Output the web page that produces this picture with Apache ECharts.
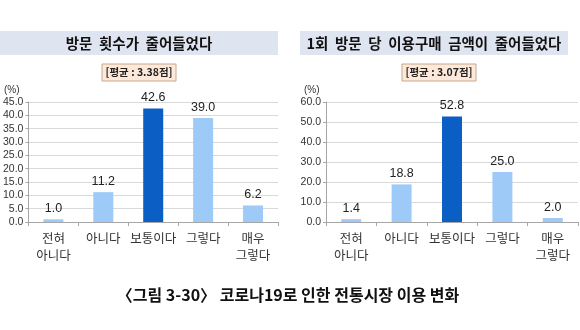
<!DOCTYPE html>
<html><head><meta charset="utf-8">
<script src="https://cdn.jsdelivr.net/npm/echarts@6/dist/echarts.min.js"></script>
<style>html,body{margin:0;padding:0;background:#fff}#c{width:580px;height:330px}</style>
</head><body><div id="c"></div>
<script>
const categories = ['전혀\n아니다', '아니다', '보통이다', '그렇다', '매우\n그렇다'];
const visitValues = [1.0, 11.2, 42.6, 39.0, 6.2];
const spendValues = [1.4, 18.8, 52.8, 25.0, 2.0];
const leftTitle = '방문  횟수가  줄어들었다';
const rightTitle = '1회  방문  당  이용구매  금액이  줄어들었다';
const leftAvg = '[평균 : 3.38점]';
const rightAvg = '[평균 : 3.07점]';
const caption = '〈그림 3-30〉 코로나19로 인한 전통시장 이용 변화';
const highlightIndex = 2;

const FONT = '"Noto Sans CJK KR", sans-serif';
const LIGHT = '#9dcaf6', DARK = '#0a5ec4';

function barData(vals){
  return vals.map((v,i)=>({value:v,itemStyle:{color:i===highlightIndex?DARK:LIGHT}}));
}
function xAxis(gi){
  return {type:'category',gridIndex:gi,data:categories,
    axisLine:{lineStyle:{color:'#a6a6a6'}},
    axisTick:{show:true,length:4,lineStyle:{color:'#a6a6a6'}},
    axisLabel:{interval:0,color:'#333',fontSize:12.5,fontFamily:FONT,lineHeight:17,margin:8}};
}
function yAxis(gi,max,interval){
  return {type:'value',gridIndex:gi,min:0,max:max,interval:interval,
    axisLine:{show:true,lineStyle:{color:'#a6a6a6'}},
    axisTick:{show:true,length:3,lineStyle:{color:'#a6a6a6'}},
    splitLine:{lineStyle:{color:'#d9d9d9'}},
    axisLabel:{color:'#333',fontSize:10.5,fontFamily:'Arial, "Liberation Sans", sans-serif',margin:5,
      formatter:v=>v.toFixed(1)}};
}
function series(gi,vals){
  return {type:'bar',xAxisIndex:gi,yAxisIndex:gi,data:barData(vals),barWidth:20,
    label:{show:true,position:'top',distance:4,color:'#222',fontSize:12.5,
      fontFamily:'Arial, "Liberation Sans", sans-serif',formatter:p=>p.value.toFixed(1)}};
}
function band(x,w,text){
  return {type:'group',children:[
    {type:'rect',shape:{x:x,y:31,width:w,height:24},style:{fill:'#dfe5f0'}},
    {type:'text',x:x+w/2,y:43,style:{text:text,fill:'#111',font:'bold 14.5px '+FONT,align:'center',verticalAlign:'middle'}}
  ]};
}
function avgBox(x,text){
  return {type:'group',children:[
    {type:'rect',shape:{x:x,y:64,width:74,height:17},style:{fill:'#fde9d9',stroke:'#c9a88a',lineWidth:1}},
    {type:'text',x:x+37,y:72.5,style:{text:text,fill:'#222',font:'bold 10.5px '+FONT,align:'center',verticalAlign:'middle'}}
  ]};
}

const chart = echarts.init(document.getElementById('c'),null,{renderer:'canvas'});
chart.setOption({
  animation:false,
  backgroundColor:'#fff',
  grid:[{left:27,top:102,width:251,height:120},{left:326,top:102,width:252,height:120}],
  xAxis:[xAxis(0),xAxis(1)],
  yAxis:[yAxis(0,45,5),yAxis(1,60,10)],
  series:[series(0,visitValues),series(1,spendValues)],
  graphic:[
    band(0,278,leftTitle),
    band(300,268,rightTitle),
    avgBox(102,leftAvg),
    avgBox(402,rightAvg),
    {type:'text',x:4,y:85,style:{text:'(%)',fill:'#333',font:'10px Arial, sans-serif'}},
    {type:'text',x:304,y:85,style:{text:'(%)',fill:'#333',font:'10px Arial, sans-serif'}},
    {type:'text',x:288,y:295,style:{text:caption,fill:'#111',font:'600 16px '+FONT,align:'center',verticalAlign:'middle'}}
  ]
});
</script></body></html>
